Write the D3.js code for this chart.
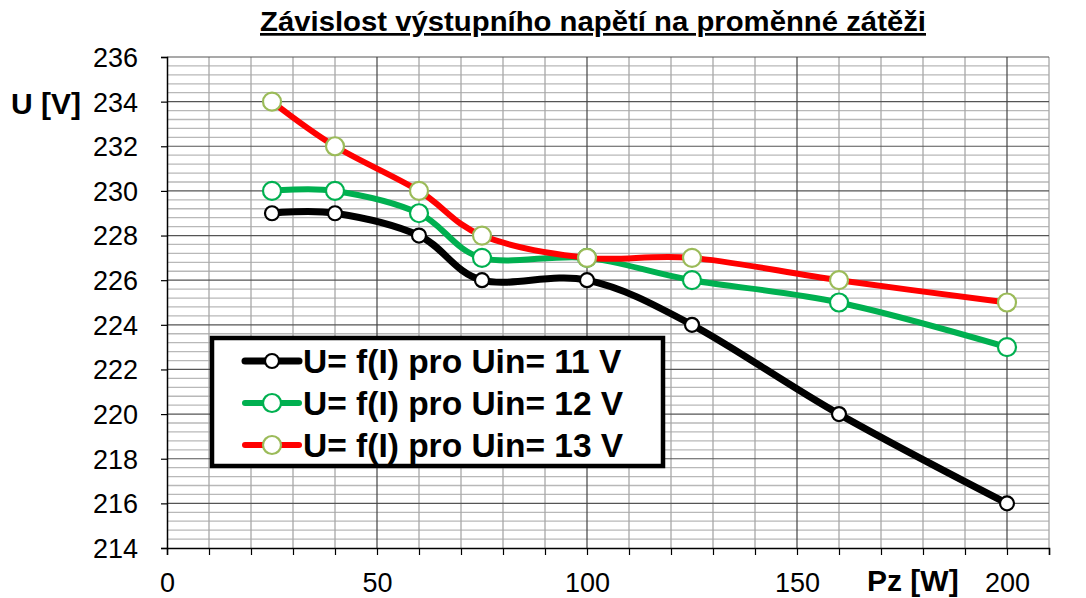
<!DOCTYPE html>
<html>
<head>
<meta charset="utf-8">
<script src="https://cdn.jsdelivr.net/npm/d3@7"></script>
<style>
  body { margin: 0; background: #fff; }
  svg { font-family: "Liberation Sans", Arial, sans-serif; }
</style>
</head>
<body>
<svg id="chart" width="1086" height="598"></svg>
<script>
// Data
const loads = [25, 40, 60, 75, 100, 125, 160, 200];
const uin11 = [229, 229, 228, 226, 226, 224, 220, 216];
const uin12 = [230, 230, 229, 227, 227, 226, 225, 223];
const uin13 = [234, 232, 230, 228, 227, 227, 226, 225];
const seriesNames = ["U= f(I) pro Uin= 11 V", "U= f(I) pro Uin= 12 V", "U= f(I) pro Uin= 13 V"];
const yTicks = [214, 216, 218, 220, 222, 224, 226, 228, 230, 232, 234, 236];
const xTicks = [0, 50, 100, 150, 200];

const svg = d3.select("#chart");
const margin = { top: 57, right: 37, bottom: 50, left: 167 };
const width = 1086 - margin.left - margin.right;
const height = 598 - margin.top - margin.bottom;

const x = d3.scaleLinear().domain([0, 210]).range([0, width]);
const y = d3.scaleLinear().domain([214, 236]).range([height, 0]);

const g = svg.append("g").attr("transform", `translate(${margin.left},${margin.top})`);

// minor grid
const minorY = d3.range(214, 236.01, 0.4).filter(v => Math.abs(v / 2 - Math.round(v / 2)) > 0.01);
g.selectAll(".minor-h").data(minorY).enter().append("line")
    .attr("x1", 0).attr("x2", width)
    .attr("y1", d => y(d)).attr("y2", d => y(d))
    .attr("stroke", "#b8b8b8").attr("stroke-width", 1.3);
const minorX = d3.range(10, 211, 10).filter(v => v % 50 !== 0);
g.selectAll(".minor-v").data(minorX).enter().append("line")
    .attr("y1", 0).attr("y2", height)
    .attr("x1", d => x(d)).attr("x2", d => x(d))
    .attr("stroke", "#a8a8a8").attr("stroke-width", 1.3);

// major grid
g.selectAll(".major-h").data(yTicks.slice(1)).enter().append("line")
    .attr("x1", 0).attr("x2", width)
    .attr("y1", d => y(d)).attr("y2", d => y(d))
    .attr("stroke", "#555").attr("stroke-width", 1.2);
g.selectAll(".major-v").data(xTicks.slice(1)).enter().append("line")
    .attr("y1", 0).attr("y2", height)
    .attr("x1", d => x(d)).attr("x2", d => x(d))
    .attr("stroke", "#444").attr("stroke-width", 1.2);

// axes
const yAxis = g.append("g")
    .call(d3.axisLeft(y).tickValues(yTicks).tickSize(6).tickPadding(23));
const xAxis = g.append("g")
    .attr("transform", `translate(0,${height})`)
    .call(d3.axisBottom(x).tickValues(d3.range(0, 211, 10)).tickSize(7).tickPadding(18)
        .tickFormat(d => xTicks.includes(d) ? d : ""));
[yAxis, xAxis].forEach(a => {
    a.select(".domain").attr("stroke", "#000").attr("stroke-width", 1.5);
    a.selectAll(".tick line").attr("stroke", "#000").attr("stroke-width", 1.2);
    a.selectAll("text").attr("font-size", "27px").attr("fill", "#000")
        .attr("font-family", "'Liberation Sans', Arial, sans-serif");
});
yAxis.selectAll("text").attr("dy", "0.35em");

// series
const series = [
    { name: seriesNames[0], values: uin11, color: "#000", width: 7, r: 7, mstroke: "#000" },
    { name: seriesNames[1], values: uin12, color: "#00b050", width: 6, r: 9, mstroke: "#00b050" },
    { name: seriesNames[2], values: uin13, color: "#ff0000", width: 6, r: 9, mstroke: "#9bbb59" }
];

const line = d3.line()
    .x((d, i) => x(loads[i]))
    .y(d => y(d))
    .curve(d3.curveCatmullRom.alpha(0));

series.forEach(s => {
    g.append("path")
        .attr("d", line(s.values))
        .attr("fill", "none")
        .attr("stroke", s.color)
        .attr("stroke-width", s.width)
        .attr("stroke-linejoin", "round");
    g.selectAll(null).data(s.values).enter().append("circle")
        .attr("cx", (d, i) => x(loads[i]))
        .attr("cy", d => y(d))
        .attr("r", s.r)
        .attr("fill", "#fff")
        .attr("stroke", s.mstroke)
        .attr("stroke-width", 2.2);
});

// legend
const legend = svg.append("g").attr("transform", "translate(212,338)");
legend.append("rect")
    .attr("x", 0).attr("y", 0).attr("width", 451).attr("height", 128)
    .attr("fill", "#fff").attr("stroke", "#000").attr("stroke-width", 4.5);
series.forEach((s, i) => {
    const row = legend.append("g").attr("transform", `translate(0,${23 + i * 42})`);
    row.append("line")
        .attr("x1", 33).attr("x2", 87).attr("y1", 0).attr("y2", 0)
        .attr("stroke", s.color).attr("stroke-width", s.width).attr("stroke-linecap", "round");
    row.append("circle")
        .attr("cx", 60).attr("cy", 0).attr("r", s.r)
        .attr("fill", "#fff").attr("stroke", s.mstroke).attr("stroke-width", 2.2);
    row.append("text")
        .attr("x", 91).attr("y", 0).attr("dy", "0.36em")
        .attr("font-size", "33.5px").attr("font-weight", "bold")
        .text(s.name);
});

// titles
svg.append("text")
    .attr("x", 593).attr("y", 31)
    .attr("text-anchor", "middle")
    .attr("font-size", "27px").attr("font-weight", "bold")
    .attr("text-decoration", "underline")
    .attr("textLength", 666).attr("lengthAdjust", "spacingAndGlyphs")
    .text("Závislost výstupního napětí na proměnné zátěži");
svg.append("text")
    .attr("x", 11).attr("y", 114)
    .attr("font-size", "30px").attr("font-weight", "bold")
    .text("U [V]");
svg.append("text")
    .attr("x", 867).attr("y", 591)
    .attr("font-size", "30px").attr("font-weight", "bold")
    .text("Pz [W]");
</script>
</body>
</html>
